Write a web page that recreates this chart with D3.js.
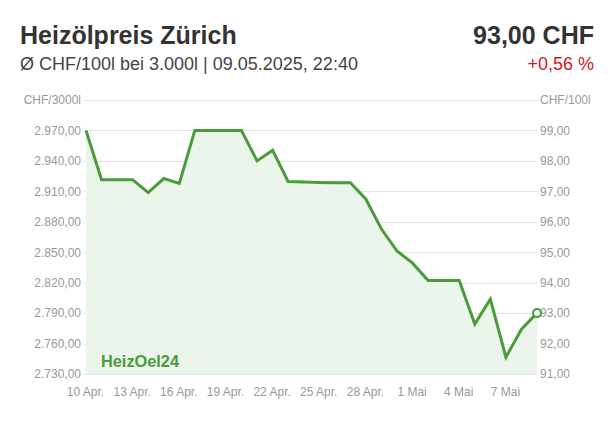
<!DOCTYPE html>
<html><head><meta charset="utf-8">
<script src="https://cdn.jsdelivr.net/npm/d3@7"></script>
<style>body{margin:0;background:#fff}svg{display:block;font-family:"Liberation Sans",Arial,sans-serif}</style>
</head><body><svg id="c" width="615" height="423"></svg>
<script>
const dates = ["2025-04-10","2025-04-11","2025-04-12","2025-04-13","2025-04-14","2025-04-15","2025-04-16","2025-04-17","2025-04-18","2025-04-19","2025-04-20","2025-04-21","2025-04-22","2025-04-23","2025-04-24","2025-04-25","2025-04-26","2025-04-27","2025-04-28","2025-04-29","2025-04-30","2025-05-01","2025-05-02","2025-05-03","2025-05-04","2025-05-05","2025-05-06","2025-05-07","2025-05-08","2025-05-09"];
const prices = [99.00,97.38,97.38,97.38,96.96,97.42,97.26,99.00,99.00,99.00,99.00,98.00,98.35,97.32,97.31,97.29,97.28,97.28,96.74,95.76,95.04,94.64,94.07,94.07,94.07,92.64,93.46,91.55,92.47,93.00];
const rightTicks = [91,92,93,94,95,96,97,98,99];
const leftTicks = [2730,2760,2790,2820,2850,2880,2910,2940,2970];
const xTickLabels = ["10 Apr.","13 Apr.","16 Apr.","19 Apr.","22 Apr.","25 Apr.","28 Apr.","1 Mai","4 Mai","7 Mai"];
const xTickDates = ["2025-04-10","2025-04-13","2025-04-16","2025-04-19","2025-04-22","2025-04-25","2025-04-28","2025-05-01","2025-05-04","2025-05-07"];
const title = "Heizölpreis Zürich";
const subtitle = "Ø CHF/100l bei 3.000l | 09.05.2025, 22:40";
const priceText = "93,00 CHF";
const changeText = "+0,56 %";
const leftUnit = "CHF/3000l", rightUnit = "CHF/100l";
const factor = 30;

const parse = d3.utcParse("%Y-%m-%d");
const data = dates.map((d,i)=>({d:parse(d), v:prices[i]}));
const svg = d3.select("#c");
const L = 86, R = 537, T = 100, B = 374;
const x = d3.scaleUtc().domain([data[0].d, data[data.length-1].d]).range([L, R]);
const y = d3.scaleLinear().domain([91, 100]).range([B, T]);
const yL = d3.scaleLinear().domain([91*factor, 100*factor]).range([B, T]);
const fmt = d3.formatLocale({decimal:",",thousands:".",grouping:[3],currency:["","CHF"]}).format(",.2f");

// header
svg.append("text").attr("x",20).attr("y",44).attr("font-size",25).attr("font-weight","bold").attr("fill","#333").text(title);
svg.append("text").attr("x",20).attr("y",70).attr("font-size",18).attr("fill","#444").text(subtitle);
svg.append("text").attr("x",594).attr("y",44).attr("text-anchor","end").attr("font-size",25).attr("font-weight","bold").attr("fill","#333").text(priceText);
svg.append("text").attr("x",594).attr("y",70).attr("text-anchor","end").attr("font-size",18).attr("fill","#d7141a").text(changeText);

// gridlines
const grid = rightTicks.concat([100]);
svg.append("g").selectAll("line").data(grid).join("line")
  .attr("x1",L-2).attr("x2",R).attr("y1",d=>Math.round(y(d))+0.5).attr("y2",d=>Math.round(y(d))+0.5)
  .attr("stroke","#e3e3e3").attr("stroke-width",1);

// area
const area = d3.area().x(d=>x(d.d)).y0(B).y1(d=>y(d.v));
svg.append("path").datum(data).attr("d",area).attr("fill","#eaf4e9").attr("fill-opacity",0.9);

// left axis
const gl = svg.append("g").attr("transform",`translate(${L-3},0)`)
  .call(d3.axisLeft(yL).tickValues(leftTicks).tickFormat(fmt).tickSize(0).tickPadding(2));
gl.select(".domain").remove();
gl.selectAll("text").attr("fill","#999").attr("font-size",12).attr("font-family","Liberation Sans, Arial, sans-serif");
svg.append("text").attr("x",L-5).attr("y",y(100)+4).attr("text-anchor","end").attr("font-size",12).attr("fill","#999").text(leftUnit);

// right axis
const gr = svg.append("g").attr("transform",`translate(${R+1},0)`)
  .call(d3.axisRight(y).tickValues(rightTicks).tickFormat(fmt).tickSize(0).tickPadding(2));
gr.select(".domain").remove();
gr.selectAll("text").attr("fill","#999").attr("font-size",12).attr("font-family","Liberation Sans, Arial, sans-serif");
svg.append("text").attr("x",R+3).attr("y",y(100)+4).attr("font-size",12).attr("fill","#999").text(rightUnit);

// bottom axis
const gx = svg.append("g").attr("transform",`translate(-1,${B+10})`)
  .call(d3.axisBottom(x).tickValues(xTickDates.map(parse)).tickFormat((d,i)=>xTickLabels[i]).tickSize(0).tickPadding(3));
gx.select(".domain").remove();
gx.selectAll("text").attr("fill","#999").attr("font-size",12).attr("font-family","Liberation Sans, Arial, sans-serif");

// logo
svg.append("text").attr("x",101).attr("y",367).attr("font-size",17).attr("font-weight","bold").attr("fill","#4a9b3a").attr("textLength",78).attr("lengthAdjust","spacingAndGlyphs").text("HeizOel24");

// line
const line = d3.line().x(d=>x(d.d)).y(d=>y(d.v));
svg.append("path").datum(data).attr("d",line).attr("fill","none").attr("stroke","#4a9b3a").attr("stroke-width",3).attr("stroke-linejoin","miter");
const last = data[data.length-1];
svg.append("circle").attr("cx",x(last.d)).attr("cy",y(last.v)).attr("r",4).attr("fill","#fff").attr("stroke","#4a9b3a").attr("stroke-width",2);
</script></body></html>
